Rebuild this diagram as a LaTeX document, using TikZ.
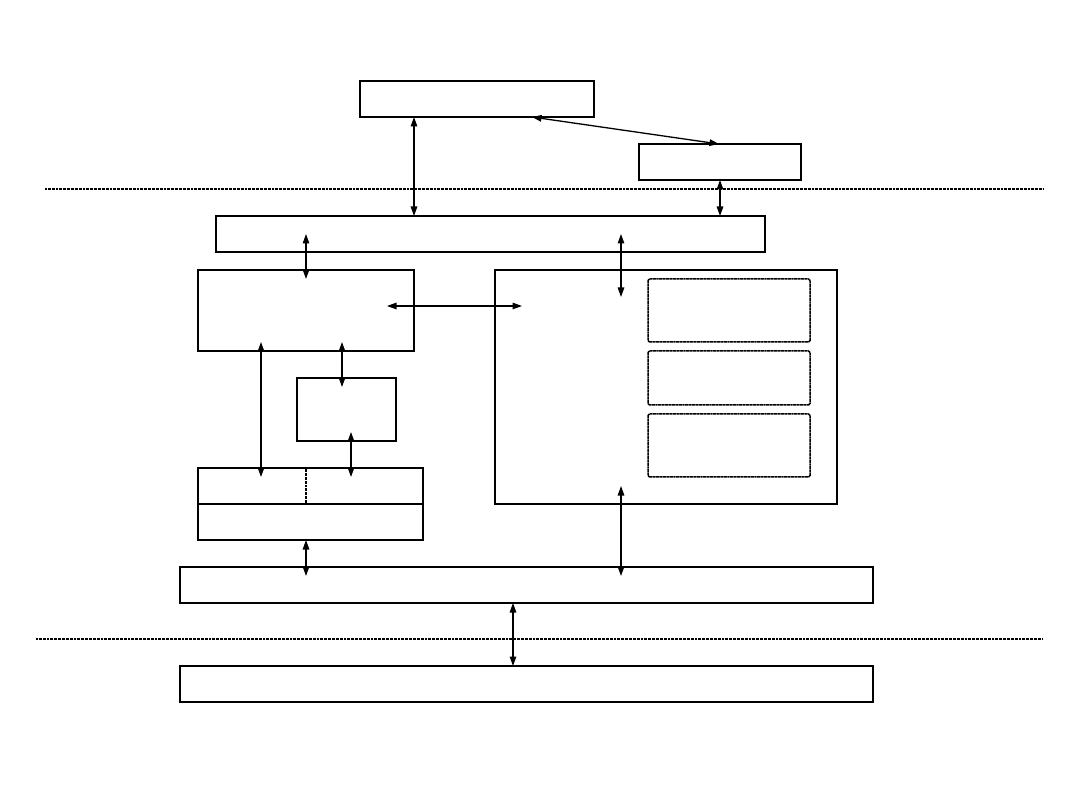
\documentclass[tikz,border=0pt]{standalone}
\usetikzlibrary{arrows.meta}
\begin{document}
\begin{tikzpicture}[x=1pt,y=-1pt,
  box/.style={draw, line width=1.5pt, inner sep=0pt, fill=none},
  sub/.style={draw, line width=1.5pt, dash pattern=on 1pt off 0.35pt, rounded corners=1.5pt, inner sep=0pt},
  sep/.style={line width=1.3pt, dash pattern=on 1pt off 0.35pt},
  link/.style={line width=1.3pt, {Triangle[length=9.5pt,width=6.5pt]}-{Triangle[length=9.5pt,width=6.5pt]}}]
\useasboundingbox (0,0) rectangle (1080,810);
% boxes
\node[box, minimum width=234pt, minimum height=36pt] (A) at (477,99) {};
\node[box, minimum width=162pt, minimum height=36pt] (B) at (720,162) {};
\node[box, minimum width=549pt, minimum height=36pt] (C) at (490.5,234) {};
\node[box, minimum width=216pt, minimum height=81pt] (D) at (306,310.5) {};
\node[box, minimum width=342pt, minimum height=234pt] (E) at (666,387) {};
\node[sub, minimum width=162pt, minimum height=63pt] (E1) at (729,310.5) {};
\node[sub, minimum width=162pt, minimum height=54pt] (E2) at (729,378) {};
\node[sub, minimum width=162pt, minimum height=63pt] (E3) at (729,445.5) {};
\node[box, minimum width=99pt, minimum height=63pt] (F) at (346.5,409.5) {};
\node[box, minimum width=225pt, minimum height=36pt] (G1) at (310.5,486) {};
\node[box, minimum width=225pt, minimum height=36pt] (G2) at (310.5,522) {};
\draw[sep] (G1.north west -| 306,0) coordinate (gs1) -- (G1.south west -| 306,0) coordinate (gs2);
\node[box, minimum width=693pt, minimum height=36pt] (H) at (526.5,585) {};
\node[box, minimum width=693pt, minimum height=36pt] (I) at (526.5,684) {};
% separator lines
\coordinate (s1a) at (45,189); \coordinate (s1b) at (1043,189);
\coordinate (s2a) at (36,639); \coordinate (s2b) at (1043,639);
\draw[sep] (s1a) -- (s1b);
\draw[sep] (s2a) -- (s2b);
% connector end points
\coordinate (a1) at (414,117); \coordinate (c1) at (414,216);
\coordinate (a2) at (532,117); \coordinate (b1) at (719,144);
\coordinate (b2) at (720,180); \coordinate (c2) at (720,216);
\coordinate (c3) at (306,234); \coordinate (d1) at (306,279);
\coordinate (c4) at (621,234); \coordinate (e1) at (621,297);
\coordinate (d2) at (387,306); \coordinate (e2) at (522,306);
\coordinate (d3) at (261,342); \coordinate (g1) at (261,477);
\coordinate (d4) at (342,342); \coordinate (f1) at (342,387);
\coordinate (f2) at (351,432); \coordinate (g2) at (351,477);
\coordinate (g3) at (306,540); \coordinate (h1) at (306,576);
\coordinate (e3) at (621,486); \coordinate (h2) at (621,576);
\coordinate (h3) at (513,603); \coordinate (i1) at (513,666);
% connectors
\draw[link] (a1) -- (c1);
\draw[link] (a2) -- (b1);
\draw[link] (b2) -- (c2);
\draw[link] (c3) -- (d1);
\draw[link] (c4) -- (e1);
\draw[link] (d2) -- (e2);
\draw[link] (d3) -- (g1);
\draw[link] (d4) -- (f1);
\draw[link] (f2) -- (g2);
\draw[link] (g3) -- (h1);
\draw[link] (e3) -- (h2);
\draw[link] (h3) -- (i1);
\end{tikzpicture}
\end{document}
